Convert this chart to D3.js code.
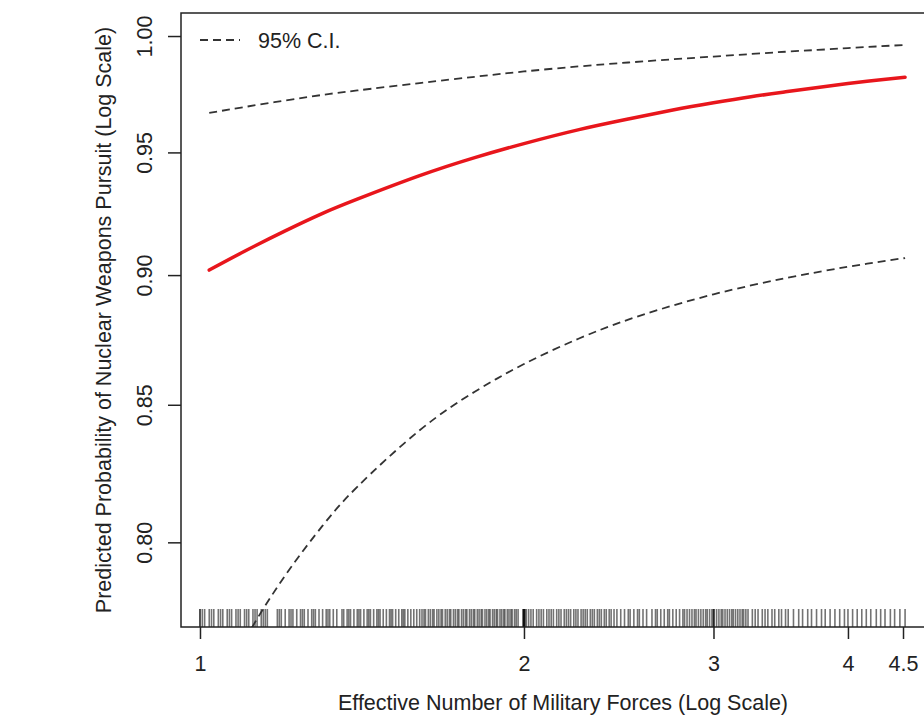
<!DOCTYPE html>
<html>
<head>
<meta charset="utf-8">
<script src="https://cdn.jsdelivr.net/npm/d3@7"></script>
<style>
  body { margin: 0; background: #fff; }
  text { font-family: "Liberation Sans", Arial, sans-serif; fill: #222; }
</style>
</head>
<body>
<svg class="svg" width="924" height="715"></svg>
<script>
// values
const xValues = [1.02, 1.1, 1.2, 1.3, 1.4, 1.6, 1.8, 2.0, 2.25, 2.5, 2.75, 3.0, 3.25, 3.5, 3.75, 4.0, 4.25, 4.52];
const predicted = [0.9020, 0.9095, 0.9177, 0.9248, 0.9306, 0.9403, 0.9478, 0.9537, 0.9596, 0.9641, 0.9679, 0.9710, 0.9736, 0.9757, 0.9776, 0.9793, 0.9807, 0.9820];
const upperCI = [0.9667, 0.9692, 0.9720, 0.9744, 0.9763, 0.9795, 0.9822, 0.9845, 0.9867, 0.9884, 0.9898, 0.9910, 0.9921, 0.9931, 0.9939, 0.9947, 0.9954, 0.9961];
const lowerCI = [0.7437, 0.7662, 0.7884, 0.8059, 0.8198, 0.8405, 0.8549, 0.8654, 0.8752, 0.8825, 0.8880, 0.8924, 0.8959, 0.8988, 0.9012, 0.9033, 0.9051, 0.9068];

const xTicks = [1, 2, 3, 4, 4.5];
const yTicks = [0.80, 0.85, 0.90, 0.95, 1.00];

// observed values shown as a rug along the x axis
const rugValues = [
  1.00, 1.00, 1.005, 1.01, 1.02, 1.025, 1.03, 1.04, 1.045, 1.05, 1.06, 1.065, 1.07, 1.08, 1.085, 1.09,
  1.10, 1.105, 1.11, 1.12, 1.125, 1.13, 1.14, 1.145, 1.15, 1.155,
  1.18, 1.185, 1.19, 1.20, 1.21, 1.215, 1.22, 1.23, 1.24, 1.245, 1.25, 1.26, 1.27, 1.275, 1.28, 1.29,
  1.30, 1.31, 1.315, 1.32, 1.33, 1.34,
  1.355, 1.36, 1.37, 1.375, 1.38, 1.39, 1.40, 1.405, 1.41, 1.42, 1.43, 1.435, 1.44, 1.45, 1.46, 1.465,
  1.47, 1.48, 1.49, 1.50, 1.505, 1.51, 1.52, 1.53, 1.54, 1.545, 1.55, 1.56, 1.57, 1.58, 1.59,
  1.60, 1.608, 1.615, 1.62, 1.63, 1.637, 1.645, 1.65, 1.66, 1.667, 1.675, 1.68, 1.69, 1.697, 1.705,
  1.71, 1.72, 1.727, 1.735, 1.74, 1.75, 1.757, 1.765, 1.77, 1.78, 1.787, 1.795, 1.80, 1.81, 1.817,
  1.825, 1.83, 1.84, 1.847, 1.855, 1.86, 1.87, 1.877, 1.885, 1.89, 1.90, 1.907, 1.915, 1.92, 1.93,
  1.937, 1.945, 1.95, 1.96, 1.967, 1.975,
  1.995, 2.0, 2.0, 2.0, 2.0, 2.005,
  2.01, 2.02, 2.03, 2.04, 2.055, 2.065, 2.075, 2.085, 2.10, 2.11, 2.12, 2.13, 2.145, 2.155, 2.165,
  2.18, 2.19, 2.20, 2.21, 2.225, 2.235, 2.245, 2.26, 2.27, 2.28, 2.29, 2.305, 2.315, 2.325, 2.34,
  2.35, 2.36, 2.375, 2.385, 2.40, 2.41, 2.425, 2.44,
  2.46, 2.48, 2.50, 2.51, 2.53, 2.55, 2.56, 2.58, 2.60, 2.63, 2.65, 2.66, 2.68, 2.70, 2.72, 2.73,
  2.75, 2.77, 2.79,
  2.81, 2.82, 2.835, 2.85, 2.865, 2.88, 2.89, 2.905, 2.92, 2.935, 2.95, 2.96, 2.975, 2.99, 3.0, 3.0,
  3.005, 3.02, 3.035, 3.05, 3.06, 3.075, 3.09, 3.105, 3.12, 3.13, 3.145, 3.16, 3.175, 3.19, 3.2,
  3.215, 3.23,
  3.26, 3.28, 3.30, 3.33, 3.35, 3.37, 3.40, 3.42, 3.45, 3.47, 3.50, 3.52,
  3.56, 3.60, 3.63, 3.67, 3.70, 3.74, 3.78, 3.81, 3.85, 3.89, 3.93, 3.97, 4.0, 4.04, 4.08, 4.12,
  4.16, 4.20, 4.25, 4.29, 4.33, 4.38, 4.42, 4.47, 4.52
];

const plot = { left: 181, top: 13, right: 945, bottom: 627 };
const fontSize = '21.5px';

const svg = d3.select('.svg');

/* X SCALE */
const xScale = d3.scaleLog()
  .domain([0.9602, 4.923])
  .range([plot.left, plot.right]);

/* Y SCALE */
const yScale = d3.scaleLog()
  .domain([0.7707, 1.0102])
  .range([plot.bottom, plot.top]);

svg.append('defs').append('clipPath')
  .attr('id', 'plot-clip')
  .append('rect')
  .attr('x', plot.left)
  .attr('y', plot.top)
  .attr('width', plot.right - plot.left)
  .attr('height', plot.bottom - plot.top);

/* rug */
svg.append('g')
  .selectAll('line')
  .data(rugValues).enter()
  .append('line')
  .attr('x1', d => xScale(d))
  .attr('x2', d => xScale(d))
  .attr('y1', plot.bottom)
  .attr('y2', plot.bottom - 18)
  .attr('stroke', '#000')
  .attr('stroke-width', 1.6)
  .attr('stroke-opacity', 0.55);

/* lines */
const line = (ys) => d3.line()
  .x((d, i) => xScale(xValues[i]))
  .y((d, i) => yScale(ys[i]))
  .curve(d3.curveNatural)(xValues);

const lines = svg.append('g').attr('clip-path', 'url(#plot-clip)');

[upperCI, lowerCI].forEach(ci => {
  lines.append('path')
    .attr('d', line(ci))
    .attr('fill', 'none')
    .attr('stroke', '#333')
    .attr('stroke-width', 1.8)
    .attr('stroke-dasharray', '8,5');
});

lines.append('path')
  .attr('d', line(predicted))
  .attr('fill', 'none')
  .attr('stroke', '#e8161c')
  .attr('stroke-width', 3.5)
  .attr('stroke-linecap', 'round');

/* box */
svg.append('rect')
  .attr('x', plot.left)
  .attr('y', plot.top)
  .attr('width', plot.right - plot.left)
  .attr('height', plot.bottom - plot.top)
  .attr('fill', 'none')
  .attr('stroke', '#222')
  .attr('stroke-width', 1.5);

/* x axis */
const xAxis = d3.axisBottom(xScale)
  .tickValues(xTicks)
  .tickFormat(d => d)
  .tickSize(12)
  .tickPadding(16.5);

const gx = svg.append('g')
  .attr('transform', `translate(0, ${plot.bottom})`)
  .call(xAxis);
gx.select('.domain').remove();
gx.selectAll('line').attr('stroke', '#222').attr('stroke-width', 1.5);
gx.selectAll('text').style('font-size', fontSize).attr('fill', '#222');

/* y axis */
const yAxis = d3.axisLeft(yScale)
  .tickValues(yTicks)
  .tickFormat(d3.format('.2f'))
  .tickSize(13);

const gy = svg.append('g')
  .attr('transform', `translate(${plot.left}, 0)`)
  .call(yAxis);
gy.select('.domain').remove();
gy.selectAll('line').attr('stroke', '#222').attr('stroke-width', 1.5);
gy.selectAll('text')
  .style('font-size', fontSize)
  .attr('fill', '#222')
  .attr('transform', 'rotate(-90)')
  .attr('x', 0)
  .attr('y', -29.3)
  .attr('dy', 0)
  .attr('text-anchor', 'middle');

/* axis titles */
svg.append('text')
  .attr('x', (plot.left + plot.right) / 2)
  .attr('y', 709.5)
  .attr('text-anchor', 'middle')
  .style('font-size', fontSize)
  .text('Effective Number of Military Forces (Log Scale)');

svg.append('text')
  .attr('transform', `translate(110.5, ${(plot.top + plot.bottom) / 2}) rotate(-90)`)
  .attr('text-anchor', 'middle')
  .style('font-size', fontSize)
  .text('Predicted Probability of Nuclear Weapons Pursuit (Log Scale)');

/* legend */
svg.append('line')
  .attr('x1', 200)
  .attr('x2', 240)
  .attr('y1', 40)
  .attr('y2', 40)
  .attr('stroke', '#333')
  .attr('stroke-width', 1.8)
  .attr('stroke-dasharray', '8,5');

svg.append('text')
  .attr('x', 258)
  .attr('y', 47.5)
  .style('font-size', fontSize)
  .text('95% C.I.');
</script>
</body>
</html>
